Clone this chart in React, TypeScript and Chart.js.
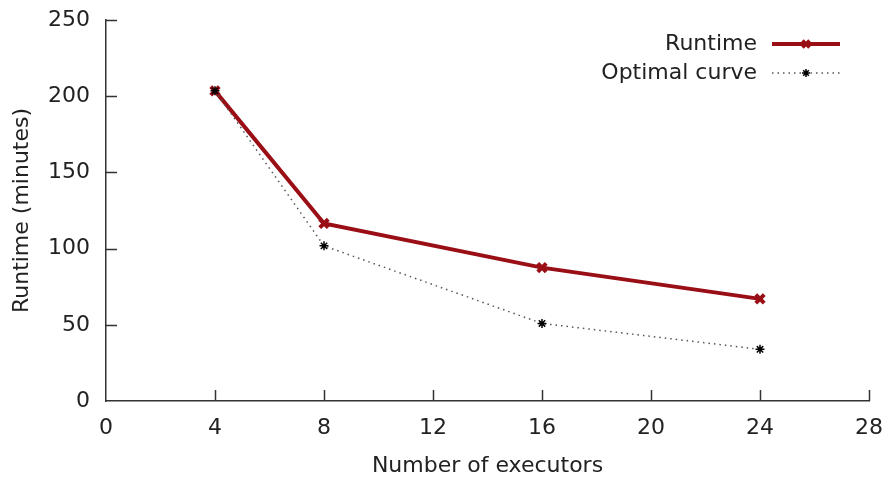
import React, { useEffect, useRef } from 'react';
import { Chart, registerables } from 'chart.js';

Chart.register(...registerables);

const executors = [4, 8, 16, 24];
const runtime = [203.5, 116.5, 87.5, 67];
const optimal = [203.5, 101.8, 50.9, 33.9];
const xTicks = [0, 4, 8, 12, 16, 20, 24, 28];
const yTicks = [0, 50, 100, 150, 200, 250];
const seriesNames = ['Runtime', 'Optimal curve'];
const xTitle = 'Number of executors';
const yTitle = 'Runtime (minutes)';

const RED = '#9a0e16';
const AXIS = '#333333';
const TEXT = '#222222';
const FONT = '"DejaVu Sans", sans-serif';
const FSIZE = 22;

function drawCross(ctx: CanvasRenderingContext2D, x: number, y: number, r: number) {
  ctx.beginPath();
  ctx.moveTo(x - r, y - r); ctx.lineTo(x + r, y + r);
  ctx.moveTo(x - r, y + r); ctx.lineTo(x + r, y - r);
  ctx.stroke();
}

function drawStar(ctx: CanvasRenderingContext2D, x: number, y: number, r: number) {
  ctx.beginPath();
  ctx.moveTo(x - r, y); ctx.lineTo(x + r, y);
  ctx.moveTo(x, y - r); ctx.lineTo(x, y + r);
  const d = r * Math.SQRT1_2;
  ctx.moveTo(x - d, y - d); ctx.lineTo(x + d, y + d);
  ctx.moveTo(x - d, y + d); ctx.lineTo(x + d, y - d);
  ctx.stroke();
}

const inwardTicks = {
  id: 'inwardTicks',
  beforeDatasetsDraw(chart: any) {
    const { ctx, chartArea, scales } = chart;
    const x = scales.x, y = scales.y;
    ctx.save();
    ctx.strokeStyle = AXIS;
    ctx.lineWidth = 1.5;
    ctx.beginPath();
    xTicks.forEach((v) => {
      if (v === 0) return;
      const px = Math.round(x.getPixelForValue(v)) + 0.5;
      ctx.moveTo(px, chartArea.bottom);
      ctx.lineTo(px, chartArea.bottom - 11);
    });
    yTicks.forEach((v) => {
      if (v === 0) return;
      const py = Math.round(y.getPixelForValue(v)) + 0.5;
      ctx.moveTo(chartArea.left, py);
      ctx.lineTo(chartArea.left + 11, py);
    });
    ctx.stroke();
    ctx.restore();
  },
};

const customLegend = {
  id: 'customLegend',
  afterDraw(chart: any) {
    const { ctx, chartArea } = chart;
    const textRight = chartArea.right - 112;
    const lineStart = chartArea.right - 97;
    const lineEnd = chartArea.right - 29;
    const mid = (lineStart + lineEnd) / 2;
    const row1 = chartArea.top + 24;
    const row2 = chartArea.top + 53;
    ctx.save();
    ctx.font = `${FSIZE}px ${FONT}`;
    ctx.textAlign = 'right';
    ctx.textBaseline = 'middle';
    ctx.fillStyle = TEXT;
    ctx.fillText(seriesNames[0], textRight, row1);
    ctx.fillText(seriesNames[1], textRight, row2);

    ctx.strokeStyle = RED;
    ctx.lineWidth = 4;
    ctx.beginPath();
    ctx.moveTo(lineStart, row1);
    ctx.lineTo(lineEnd, row1);
    ctx.stroke();
    ctx.lineWidth = 3.5;
    drawCross(ctx, mid, row1, 3.5);

    ctx.strokeStyle = '#555555';
    ctx.lineWidth = 1.5;
    ctx.setLineDash([1.5, 4]);
    ctx.beginPath();
    ctx.moveTo(lineStart, row2);
    ctx.lineTo(lineEnd, row2);
    ctx.stroke();
    ctx.setLineDash([]);
    ctx.strokeStyle = '#000000';
    ctx.lineWidth = 1.5;
    drawStar(ctx, mid, row2, 4);
    ctx.restore();
  },
};

export default function App() {
  const canvasRef = useRef<HTMLCanvasElement | null>(null);

  useEffect(() => {
    if (!canvasRef.current) return;
    const chart = new Chart(canvasRef.current, {
      type: 'line',
      data: {
        datasets: [
          {
            label: seriesNames[1],
            data: executors.map((e, i) => ({ x: e, y: optimal[i] })),
            borderColor: '#555555',
            borderWidth: 1.5,
            borderDash: [1.5, 4],
            pointStyle: 'star',
            pointRadius: 4.5,
            pointBorderWidth: 1.5,
            pointBorderColor: '#000000',
            pointBackgroundColor: '#000000',
            fill: false,
            tension: 0,
            order: 0,
          },
          {
            label: seriesNames[0],
            data: executors.map((e, i) => ({ x: e, y: runtime[i] })),
            borderColor: RED,
            borderWidth: 4,
            pointStyle: 'crossRot',
            pointRadius: 6,
            pointBorderWidth: 4,
            pointBorderColor: RED,
            pointBackgroundColor: RED,
            fill: false,
            tension: 0,
            order: 1,
          },
        ],
      },
      options: {
        animation: false,
        responsive: true,
        maintainAspectRatio: false,
        layout: { padding: { top: 20, right: 18, left: 0, bottom: 0 } },
        plugins: { legend: { display: false }, tooltip: { enabled: false } },
        scales: {
          x: {
            type: 'linear',
            min: 0,
            max: 28,
            afterBuildTicks: (scale: any) => {
              scale.ticks = xTicks.map((v) => ({ value: v }));
            },
            afterFit: (scale: any) => {
              scale.height = 81;
              scale.paddingLeft = 0;
              scale.paddingRight = 0;
            },
            grid: { display: false, drawTicks: false },
            border: { display: true, color: AXIS, width: 1.5 },
            ticks: { color: TEXT, font: { family: FONT, size: FSIZE }, padding: 14, maxRotation: 0, autoSkip: false },
            title: {
              display: true,
              text: xTitle,
              color: TEXT,
              font: { family: FONT, size: FSIZE },
              padding: { top: 0, bottom: 3 },
            },
          },
          y: {
            type: 'linear',
            min: 0,
            max: 250,
            afterBuildTicks: (scale: any) => {
              scale.ticks = yTicks.map((v) => ({ value: v }));
            },
            afterFit: (scale: any) => {
              scale.width = 106;
              scale.paddingTop = 0;
              scale.paddingBottom = 0;
            },
            grid: { display: false, drawTicks: false },
            border: { display: true, color: AXIS, width: 1.5 },
            ticks: { color: TEXT, font: { family: FONT, size: FSIZE }, padding: 16 },
            title: {
              display: true,
              text: yTitle,
              color: TEXT,
              font: { family: FONT, size: FSIZE },
              padding: { top: 9, bottom: 0 },
            },
          },
        },
      },
      plugins: [inwardTicks, customLegend],
    });
    return () => chart.destroy();
  }, []);

  return (
    <div style={{ position: 'fixed', left: 0, top: 0, width: 887, height: 482, background: '#ffffff' }}>
      <canvas ref={canvasRef} />
    </div>
  );
}
